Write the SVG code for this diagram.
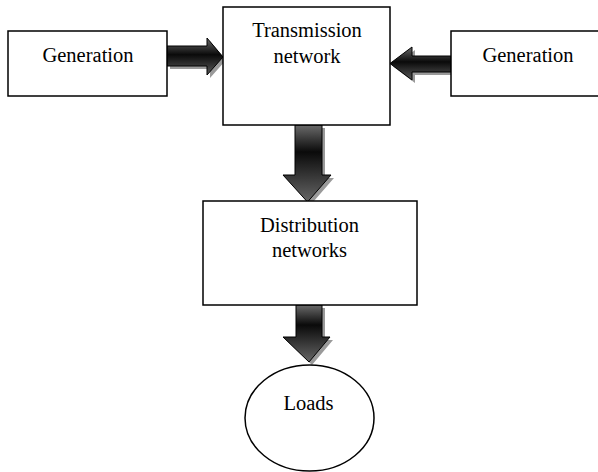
<svg xmlns="http://www.w3.org/2000/svg" width="598" height="472" viewBox="0 0 598 472">
<style>
.box{fill:#fff;stroke:#000;stroke-width:1.5}
.lbl{font-family:"Liberation Serif","Times New Roman",serif;font-size:20.5px;fill:#000;text-anchor:middle}
.arr{stroke:#000;stroke-width:1}
.shadow{fill:#9a9a9a;stroke:none}
</style>
<defs>
<linearGradient id="gh" x1="0" y1="0" x2="0" y2="1">
<stop offset="0" stop-color="#6a6a6a"/>
<stop offset="0.45" stop-color="#0a0a0a"/>
<stop offset="1" stop-color="#5a5a5a"/>
</linearGradient>
<linearGradient id="gv" x1="0" y1="0" x2="0" y2="1">
<stop offset="0" stop-color="#6a6a6a"/>
<stop offset="0.35" stop-color="#0a0a0a"/>
<stop offset="1" stop-color="#666"/>
</linearGradient>
</defs>
<g id="connectors">
<path class="shadow" transform="translate(3,3)" d="M167,46 L207,46 L207,38 L223,57 L207,75 L207,66 L167,66 Z"/>
<path class="arr" fill="url(#gh)" d="M167,46 L207,46 L207,38 L223,57 L207,75 L207,66 L167,66 Z"/>
<path class="shadow" transform="translate(3,3)" d="M451,56 L412,56 L412,47 L390,63.5 L412,80 L412,72 L451,72 Z"/>
<path class="arr" fill="url(#gh)" d="M451,56 L412,56 L412,47 L390,63.5 L412,80 L412,72 L451,72 Z"/>
<path class="shadow" transform="translate(3,3)" d="M295,125 L322,125 L322,175 L331,175 L307.5,202 L283,175 L295,175 Z"/>
<path class="arr" fill="url(#gv)" d="M295,125 L322,125 L322,175 L331,175 L307.5,202 L283,175 L295,175 Z"/>
<path class="shadow" transform="translate(3,3)" d="M296,305 L322,305 L322,337 L330,337 L309,362 L283,337 L296,337 Z"/>
<path class="arr" fill="url(#gv)" d="M296,305 L322,305 L322,337 L330,337 L309,362 L283,337 L296,337 Z"/>
</g>
<g id="gen-left">
<rect class="box" x="8" y="31" width="159" height="65"/>
<text class="lbl" x="88" y="62">Generation</text>
</g>
<g id="transmission">
<rect class="box" x="223" y="7" width="167" height="118"/>
<text class="lbl" x="307" y="37">Transmission</text>
<text class="lbl" x="307" y="63">network</text>
</g>
<g id="gen-right">
<rect class="box" x="451" y="31" width="160" height="65"/>
<text class="lbl" x="528" y="62">Generation</text>
</g>
<g id="distribution">
<rect class="box" x="203" y="201" width="214" height="104"/>
<text class="lbl" x="309.5" y="232">Distribution</text>
<text class="lbl" x="309.5" y="257">networks</text>
</g>
<g id="loads">
<ellipse class="box" cx="309.5" cy="418" rx="64.5" ry="53"/>
<text class="lbl" x="308.5" y="410">Loads</text>
</g>
</svg>
